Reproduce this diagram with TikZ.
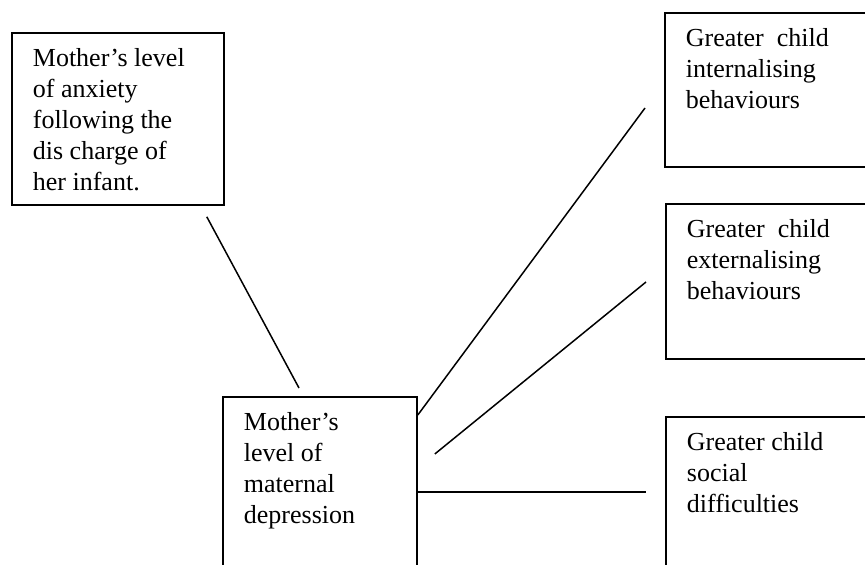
\documentclass[tikz,border=0pt]{standalone}
\usepackage{fontspec}
\setmainfont{Liberation Serif}
\usetikzlibrary{calc}

\begin{document}
\begin{tikzpicture}[x=1pt, y=-1pt,
	box/.style={draw, line width=1.8pt, anchor=north west, inner xsep=21pt, inner ysep=12pt,
		font=\fontsize{26}{31}\selectfont},
	link/.style={line width=1.5pt}]
	\useasboundingbox (0,0) rectangle (865,565);
	\clip (0,0) rectangle (865,565);

	% boxes
	\node[box] (anx) at (11,32) {\parbox[t][148pt][t]{170pt}{\strut Mother's level\\of anxiety\\following the\\dis charge of\\her infant.}};
	\node[box] (dep) at (222,396) {\parbox[t][200pt][t]{152pt}{\strut Mother's\\level of\\maternal\\depression}};
	\node[box] (int) at (664,12) {\parbox[t][130pt][t]{200pt}{\strut Greater~~child\\internalising\\behaviours}};
	\node[box] (ext) at (665,203) {\parbox[t][131pt][t]{200pt}{\strut Greater~~child\\externalising\\behaviours}};
	\node[box] (soc) at (665,416) {\parbox[t][200pt][t]{200pt}{\strut Greater child\\social\\difficulties}};

	% links
	\draw[link] ($(anx.south east)+(-18,11)$) -- ($(dep.north west)+(77,-8)$);
	\draw[link] ($(dep.north east)+(0,19)$) -- ($(int.north west)+(-19,96)$);
	\draw[link] ($(dep.north east)+(17,58)$) -- ($(ext.north west)+(-19,79)$);
	\draw[link] ($(dep.north east)+(0,96)$) -- ($(soc.north west)+(-19,76)$);
	%%%%%%%%%%%%%%%%%%%%%%%%%%%%%
\end{tikzpicture}
\end{document}
